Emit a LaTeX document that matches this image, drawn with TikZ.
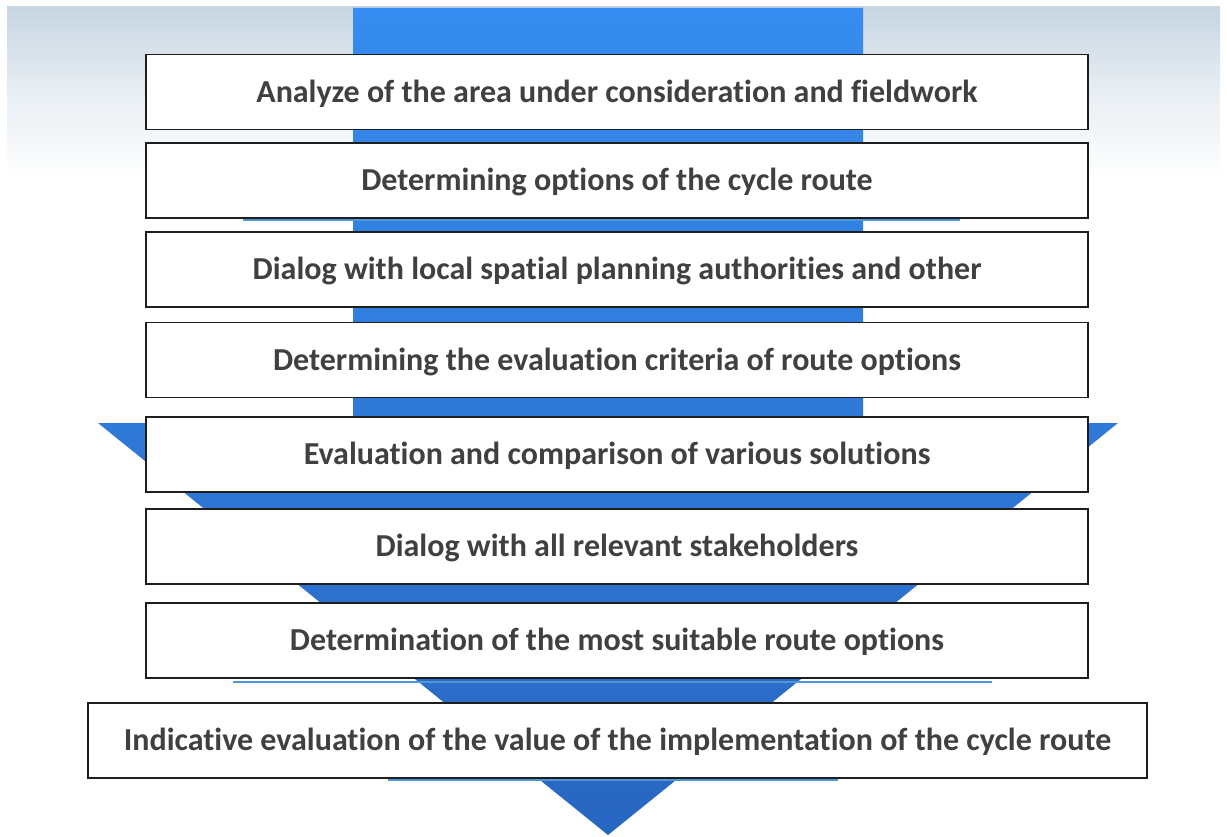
\documentclass[tikz,border=0pt]{standalone}
\usepackage{fontspec}
\setmainfont{Carlito}[Ligatures=NoCommon]
\usetikzlibrary{shadings}
\definecolor{txt}{RGB}{64,64,64}
\definecolor{bandtop}{RGB}{199,213,226}
\definecolor{bandmid}{RGB}{232,238,243}
\definecolor{arrtop}{RGB}{54,140,240}
\definecolor{arrbot}{RGB}{40,102,192}
\definecolor{edgeblue}{RGB}{80,150,215}
\definecolor{boxline}{RGB}{30,30,30}
\begin{document}
\begin{tikzpicture}[x=1pt,y=-1pt,
  stepbox/.style={draw=boxline, line width=1.4pt, fill=white, inner sep=0pt,
    minimum width=942pt, minimum height=75pt, text height=20.6pt, text depth=0pt,
    font=\fontsize{32}{38}\selectfont\bfseries, text=txt},
  edgeline/.style={draw=edgeblue, line width=2pt}]
\useasboundingbox (0,0) rectangle (1227,837);
\fill[white] (0,0) rectangle (1227,837);
% background band
\shade[top color=bandtop, bottom color=white, middle color=bandmid] (7,7) rectangle (1220,178);
% big arrow
\shade[top color=arrtop, bottom color=arrbot]
  (353,8) -- (863,8) -- (863,423) -- (1118,423) -- (608,835) -- (98,423) -- (353,423) -- cycle;
% blue edges below some boxes
\draw[edgeline] (243,220) -- (960,220);
\draw[edgeline] (233,682) -- (992,682);
\draw[edgeline] (388,780) -- (838,780);
% steps
\node[stepbox] (b1) at (617,92) {Analyze of the area under consideration and fieldwork};
\node[stepbox] (b2) at (617,180.5) {Determining options of the cycle route};
\node[stepbox] (b3) at (617,269.5) {Dialog with local spatial planning authorities and other};
\node[stepbox] (b4) at (617,360) {Determining the evaluation criteria of route options};
\node[stepbox] (b5) at (617,454.5) {Evaluation and comparison of various solutions};
\node[stepbox] (b6) at (617,546.5) {Dialog with all relevant stakeholders};
\node[stepbox] (b7) at (617,640.5) {Determination of the most suitable route options};
\node[stepbox, minimum width=1059pt] (b8) at (617.5,740.5) {Indicative evaluation of the value of the implementation of the cycle route};
\end{tikzpicture}
\end{document}
